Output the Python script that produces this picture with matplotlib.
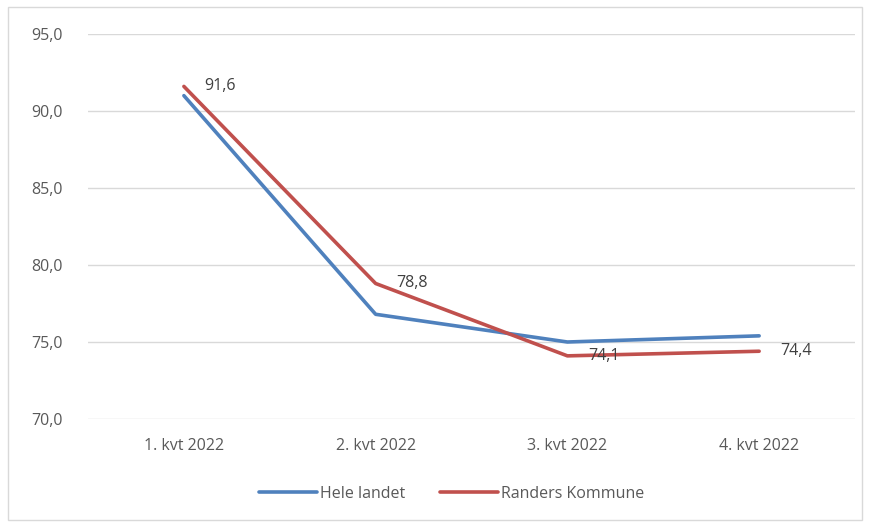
import matplotlib.pyplot as plt
from matplotlib.patches import Rectangle

quarters = ['1. kvt 2022', '2. kvt 2022', '3. kvt 2022', '4. kvt 2022']
hele_landet = [91.0, 76.8, 75.0, 75.4]
randers = [91.6, 78.8, 74.1, 74.4]
yticks = [70, 75, 80, 85, 90, 95]

plt.rcParams['font.family'] = ['Open Sans', 'DejaVu Sans']

fig = plt.figure(figsize=(8.69, 5.24), dpi=100)
fig.patches.append(Rectangle((0.009, 0.008), 0.983, 0.978, transform=fig.transFigure,
                             fill=False, edgecolor='#d9d9d9', linewidth=1))
ax = fig.add_axes([0.1013, 0.2004, 0.8826, 0.7346])

x = range(len(quarters))
ax.plot(x, hele_landet, color='#4f81bd', linewidth=2.6, label='Hele landet',
        solid_capstyle='round', solid_joinstyle='round')
ax.plot(x, randers, color='#c0504d', linewidth=2.6, label='Randers Kommune',
        solid_capstyle='round', solid_joinstyle='round')

# datalabels til højre for punkterne
for i, v in enumerate(randers):
    ax.annotate(f'{v:.1f}'.replace('.', ','), (i, v), xytext=(15, 0),
                textcoords='offset points', ha='left', va='center',
                fontsize=11.5, color='#404040')

ax.set_xlim(-0.5, 3.5)
ax.set_ylim(70, 95)
ax.set_yticks(yticks)
ax.set_yticklabels([f'{t:.1f}'.replace('.', ',') for t in yticks])
ax.set_xticks(list(x))
ax.set_xticklabels(quarters)
ax.grid(axis='y', color='#d9d9d9', linewidth=1)
ax.set_axisbelow(True)
for s in ax.spines.values():
    s.set_visible(False)
ax.tick_params(axis='both', length=0, labelsize=11.5, colors='#595959')
ax.tick_params(axis='x', pad=14)
ax.tick_params(axis='y', pad=18)

fig.legend(loc='center', bbox_to_anchor=(0.52, 0.058), ncol=2, frameon=False,
           fontsize=11.5, handlelength=3.6, columnspacing=2.2, handletextpad=0.2,
           labelcolor='#595959')

fig.savefig('out.png', dpi=100)
